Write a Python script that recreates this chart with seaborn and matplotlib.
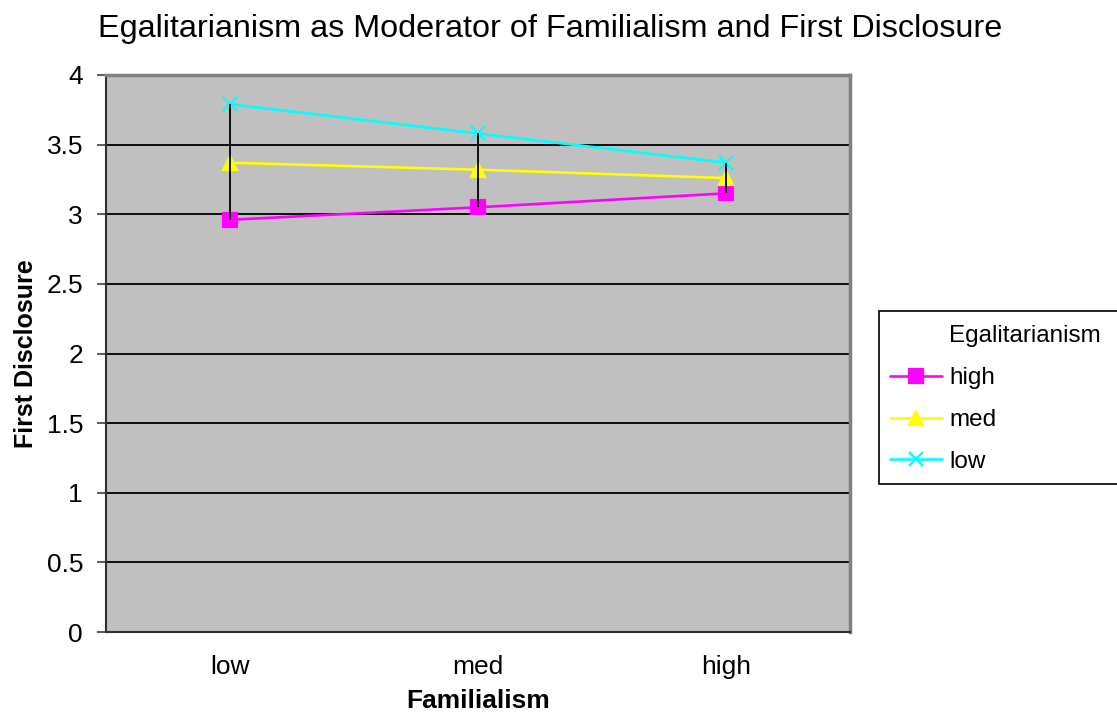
import matplotlib
matplotlib.use("Agg")
import matplotlib.pyplot as plt
from matplotlib.lines import Line2D
from matplotlib.patches import Rectangle
import seaborn as sns
import pandas as pd

# Familialism levels on the x axis
familialism = ["low", "med", "high"]
# First Disclosure means for each Egalitarianism group
egal_high = [2.96, 3.05, 3.15]
egal_med = [3.37, 3.32, 3.26]
egal_low = [3.79, 3.58, 3.37]
groups = ["high", "med", "low"]

df = pd.DataFrame({
    "Familialism": familialism * 3,
    "First Disclosure": egal_high + egal_med + egal_low,
    "Egalitarianism": [g for g in groups for _ in familialism],
})
df["x"] = df["Familialism"].map({f: i for i, f in enumerate(familialism)})

sns.set_style("white")
plt.rcParams["font.family"] = ["Liberation Sans", "DejaVu Sans"]
plt.rcParams["text.color"] = "black"
plt.rcParams["axes.labelcolor"] = "black"
plt.rcParams["xtick.color"] = "black"
plt.rcParams["ytick.color"] = "black"

W, H = 1117, 717
fig = plt.figure(figsize=(W / 100, H / 100), dpi=100)
ax = fig.add_axes([106 / W, 1 - 632 / H, 744 / W, 557 / H])
ax.set_facecolor("#C0C0C0")

palette = {"high": "#FF00FF", "med": "#FFFF00", "low": "#00FFFF"}
markers = {"high": "s", "med": "^", "low": "x"}
msizes = {"high": 10, "med": 10, "low": 10}

for g in groups:
    sub = df[df["Egalitarianism"] == g]
    sns.lineplot(data=sub, x="x", y="First Disclosure", color=palette[g],
                 marker=markers[g], markersize=msizes[g], markeredgewidth=1.6,
                 markeredgecolor=palette[g], lw=1.9, ax=ax, zorder=2,
                 legend=False)

# high-low lines spanning the groups at each level
lo = df.groupby("x")["First Disclosure"].min()
hi = df.groupby("x")["First Disclosure"].max()
ax.vlines(lo.index, lo.values, hi.values, color="black", lw=1.3, zorder=3)

ax.set_xlim(-0.5, 2.5)
ax.set_ylim(0, 4)
ax.set_xticks(range(len(familialism)))
ax.set_xticklabels(familialism)
ax.set_yticks([0, 0.5, 1, 1.5, 2, 2.5, 3, 3.5, 4])
ax.set_yticklabels(["0", "0.5", "1", "1.5", "2", "2.5", "3", "3.5", "4"])
ax.yaxis.grid(True, color="black", lw=1.3)
ax.set_axisbelow(True)
ax.tick_params(axis="y", left=True, length=6.5, width=1.1, direction="out",
               labelsize=19, pad=10, color="#303030")
ax.tick_params(axis="x", bottom=False, labelsize=19, pad=13)

for side in ["top", "right"]:
    ax.spines[side].set_color("#808080")
    ax.spines[side].set_linewidth(2.5)
for side in ["left", "bottom"]:
    ax.spines[side].set_color("#303030")
    ax.spines[side].set_linewidth(1.5)

ax.set_xlabel("Familialism", fontsize=19, fontweight="bold", labelpad=7)
ax.set_ylabel("First Disclosure", fontsize=18, fontweight="bold", labelpad=6)
fig.text(550 / W, 1 - 36.7 / H,
         "Egalitarianism as Moderator of Familialism and First Disclosure",
         ha="center", va="baseline", fontsize=23.3)

# legend box, its title and the three series entries
fig.patches.append(Rectangle((879 / W, 1 - 484 / H), 300 / W, 173 / H,
                             transform=fig.transFigure, facecolor="white",
                             edgecolor="black", lw=1.2, zorder=0))
fig.text(949 / W, 1 - 342 / H, "Egalitarianism", ha="left", va="baseline",
         fontsize=17.5)
handles = [Line2D([], [], color=palette[g], marker=markers[g],
                  markersize=msizes[g], markeredgewidth=1.6,
                  markeredgecolor=palette[g], lw=1.9) for g in groups]
leg = fig.legend(handles, groups, loc="center left",
                 bbox_to_anchor=(890 / W, 1 - 420 / H), frameon=False,
                 fontsize=17.5, handlelength=2.14, handletextpad=0.29,
                 labelspacing=0.82, borderpad=0, borderaxespad=0)

fig.savefig("out.png", dpi=100)
